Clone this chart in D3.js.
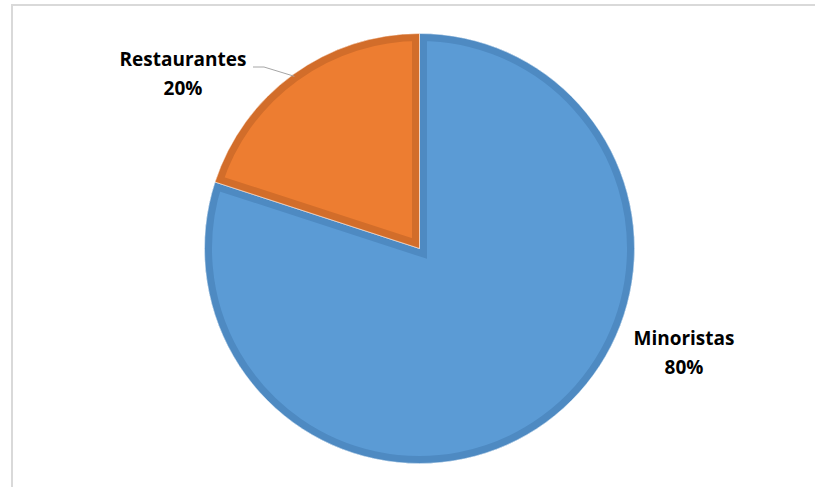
<!DOCTYPE html>
<html>
<head>
<meta charset="utf-8">
<script src="https://cdn.jsdelivr.net/npm/d3@7"></script>
<style>
  html, body { margin: 0; padding: 0; background: #fff; }
  svg { display: block; }
  .lbl { font-family: "Open Sans", Lato, sans-serif; font-weight: 700; font-size: 19px; fill: #000; }
</style>
</head>
<body>
<svg id="chart" width="815" height="487"></svg>
<script>
// Sales share by customer type
const categories = ["Minoristas", "Restaurantes"];
const values = [80, 20];
const fills = ["#5B9BD5", "#ED7D31"];
const bands = ["#4E8AC2", "#D26D2A"];

const W = 815, H = 487;
const cx = 419.5, cy = 248.5, R = 215;

const svg = d3.select("#chart");

// chart frame
svg.append("rect")
  .attr("x", 12).attr("y", 5)
  .attr("width", W + 10).attr("height", H + 10)
  .attr("fill", "#fff")
  .attr("stroke", "#D9D9D9").attr("stroke-width", 2);

const pie = d3.pie().sort(null).value(d => d.v);
const arcs = pie(categories.map((c, i) => ({ c, v: values[i], i })));
const arc = d3.arc().innerRadius(0).outerRadius(R);

const g = svg.append("g").attr("transform", `translate(${cx},${cy})`);
const defs = svg.append("defs");

arcs.forEach((a, k) => {
  defs.append("clipPath").attr("id", "clip" + k)
    .append("path").attr("d", arc(a));
});

const slices = g.selectAll("g.slice").data(arcs).join("g").attr("class", "slice");

slices.append("path")
  .attr("d", d => arc(d))
  .attr("fill", d => fills[d.data.i]);

// darker inner band along each slice edge
slices.append("path")
  .attr("d", d => arc(d))
  .attr("fill", "none")
  .attr("stroke", d => bands[d.data.i])
  .attr("stroke-width", 15)
  .attr("stroke-linejoin", "miter")
  .attr("clip-path", (d, k) => `url(#clip${k})`);

// light separator between slices
slices.append("path")
  .attr("d", d => arc(d))
  .attr("fill", "none")
  .attr("stroke", "#FFFFFF")
  .attr("stroke-opacity", 0.55)
  .attr("stroke-width", 1);

// labels
const labelPos = [
  { x: 684, y: 345 },
  { x: 183, y: 66 }
];
arcs.forEach((a, k) => {
  const p = labelPos[a.data.i];
  const t = svg.append("text").attr("class", "lbl").attr("text-anchor", "middle");
  t.append("tspan").attr("x", p.x).attr("y", p.y).text(a.data.c);
  t.append("tspan").attr("x", p.x).attr("y", p.y + 29).text(a.data.v + "%");
});

// leader line for the small slice
const rest = arcs[1];
const mid = (rest.startAngle + rest.endAngle) / 2;
const anchor = [cx + Math.sin(mid) * R * 0.99, cy - Math.cos(mid) * R * 0.99];
svg.append("path")
  .attr("d", d3.line()([[253, 67], [264, 67], anchor]))
  .attr("fill", "none")
  .attr("stroke", "#A6A6A6")
  .attr("stroke-width", 1);
</script>
</body>
</html>
